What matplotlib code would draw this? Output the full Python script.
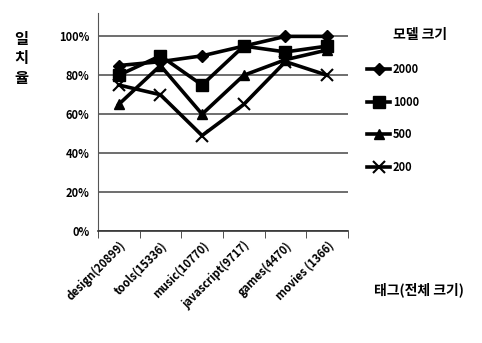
import matplotlib
matplotlib.use('Agg')
import matplotlib.pyplot as plt
from matplotlib.ticker import PercentFormatter, FixedLocator

plt.rcParams['font.family'] = ['Noto Sans CJK KR', 'DejaVu Sans']
plt.rcParams['font.weight'] = 'heavy'

tags = ["design(20899)", "tools(15336)", "music(10770)",
        "javascript(9717)", "games(4470)", "movies (1366)"]
s2000 = [85, 87, 90, 95, 100, 100]
s1000 = [80, 90, 75, 95, 92, 95]
s500 = [65, 85, 60, 80, 88, 93]
s200 = [75, 70, 49, 65, 87, 80]

series = [("2000", s2000, "D", 6), ("1000", s1000, "s", 9),
          ("500", s500, "^", 7), ("200", s200, "x", 8)]

fig = plt.figure(figsize=(4.82, 3.43), dpi=100)
ax = fig.add_axes([0.203, 0.327, 0.519, 0.635])

x = list(range(len(tags)))
for name, vals, mk, ms in series:
    ax.plot(x, vals, color="black", lw=2.6, marker=mk, markersize=ms,
            markeredgewidth=1.5 if mk == "x" else 1, label=name)

ax.set_xlim(-0.5, len(tags) - 0.5)
ax.set_ylim(0, 112)
ax.set_yticks([0, 20, 40, 60, 80, 100])
ax.yaxis.set_major_formatter(PercentFormatter(decimals=0))
ax.grid(axis="y", color="#555555", lw=1.2)
ax.set_axisbelow(True)

for side in ["top", "right"]:
    ax.spines[side].set_visible(False)
ax.spines["left"].set_color("#555555")
ax.spines["bottom"].set_color("#333333")
ax.spines["bottom"].set_linewidth(1.2)

ax.set_xticks(x)
ax.set_xticklabels(tags, rotation=45, ha="right", rotation_mode="anchor",
                   fontsize=8, fontweight="heavy")
ax.tick_params(axis="x", which="major", length=0, pad=6)
ax.xaxis.set_minor_locator(FixedLocator([i - 0.5 for i in range(len(tags) + 1)]))
ax.tick_params(axis="x", which="minor", length=5, direction="out", color="#333333")
ax.tick_params(axis="y", length=0, labelsize=8, pad=6)
for t in ax.get_yticklabels():
    t.set_fontweight("heavy")

fig.text(0.045, 0.83, "일\n치\n율", fontsize=11, fontweight="heavy",
         ha="center", va="center", linespacing=1.25)

# legend title placed separately so it sits centred above the entries
fig.text(0.872, 0.898, "모델 크기", fontsize=10, fontweight="heavy",
         ha="center", va="center")
leg = ax.legend(loc="upper left", bbox_to_anchor=(1.06, 0.79), frameon=False,
                fontsize=8, handlelength=2.0, handletextpad=0.3,
                labelspacing=1.75, borderaxespad=0)
for t in leg.get_texts():
    t.set_fontweight("heavy")

fig.text(0.87, 0.155, "태그(전체 크기)", fontsize=10, fontweight="heavy",
         ha="center", va="center")

fig.savefig("out.png", dpi=100)
